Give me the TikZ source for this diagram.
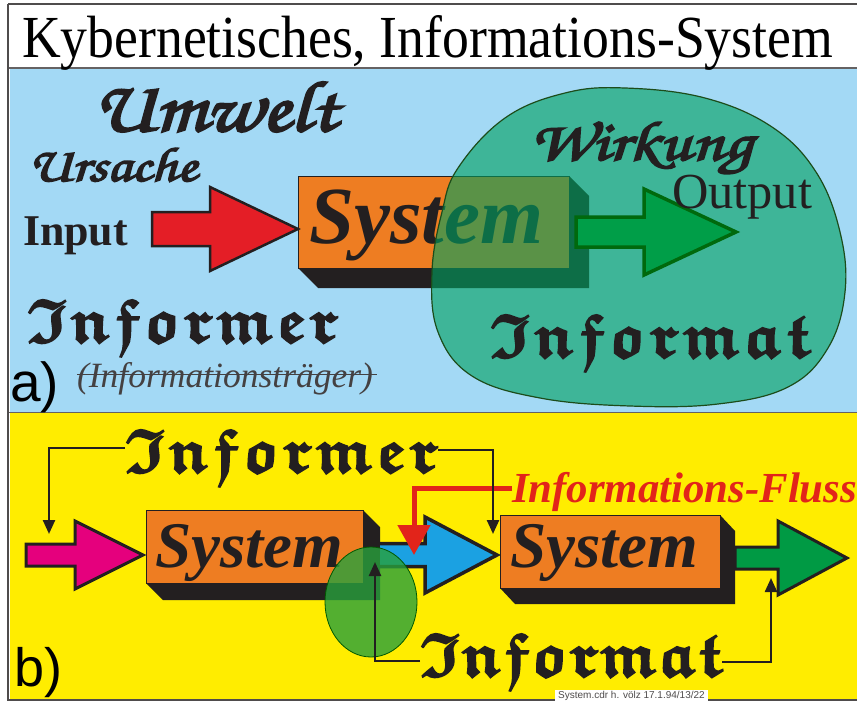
\documentclass[tikz,border=0pt]{standalone}
\usepackage{graphicx}
\usepackage{amsfonts}
\usepackage{fontspec}
\setmainfont{Liberation Serif}
\newfontfamily\sansfnt{Liberation Sans}
\newfontfamily\scriptfnt[FakeBold=3]{texgyrechorus-mediumitalic.otf}
\usetikzlibrary{arrows.meta,calc}
\definecolor{bluebg}{RGB}{163,217,245}
\definecolor{yellowbg}{RGB}{255,237,0}
\definecolor{orangebox}{RGB}{238,125,34}
\definecolor{shadowc}{RGB}{35,31,32}
\definecolor{redarr}{RGB}{228,30,38}
\definecolor{greenarr}{RGB}{0,158,72}
\definecolor{greenarrb}{RGB}{0,154,68}
\definecolor{magarr}{RGB}{229,0,125}
\definecolor{bluearr}{RGB}{27,161,226}
\definecolor{blobc}{RGB}{0,160,95}
\definecolor{ellc}{RGB}{40,160,60}
\definecolor{flussred}{RGB}{226,36,26}
\newcommand\frk[1]{$\mathfrak{#1}$}
\newcommand\frakspread[2]{\makebox[#1][s]{\fontsize{62}{62}\selectfont\boldmath\special{pdf:literal direct 2 Tr 1.6 w}#2\special{pdf:literal direct 0 Tr 0.4 w}}}
\newcommand\blockarrow[7]{%
  \draw[#1] ({#2},{#5-#6}) -- ({#3},{#5-#6}) -- ({#3},{#5-#7}) -- ({#4},{#5})
    -- ({#3},{#5+#7}) -- ({#3},{#5+#6}) -- ({#2},{#5+#6}) -- cycle;}
\tikzset{
  lbl/.style={inner sep=0pt, outer sep=0pt, anchor=base west},
  sbox/.style={fill=orangebox, draw=shadowc, line width=0.6pt, inner sep=0pt, outer sep=0pt, anchor=north west},
  extr/.style={fill=shadowc},
  conn/.style={line width=2.4pt, draw=shadowc, -{Triangle[length=14pt,width=12pt]}},
  fatarrow/.style={line width=3pt, draw=shadowc, line join=miter},
}
\begin{document}
\begin{tikzpicture}[x=1pt,y=-1pt]
\useasboundingbox (0,0) rectangle (857,701);
\fill[white] (0,0) rectangle (857,701);
% panels
\fill[bluebg] (10,68) rectangle (857,412);
\fill[yellowbg] (10,413) rectangle (857,699);
\draw[shadowc!80, line width=1.5pt] (8,4) -- (857,4);
\draw[shadowc!80, line width=2pt] (8,4) -- (8,701);
\draw[shadowc!70, line width=1.5pt] (9,68) -- (857,68);
\draw[shadowc!70, line width=1.5pt] (9,412.5) -- (857,412.5);
\draw[shadowc!80, line width=2pt] (9,700) -- (857,700);
% title
\node[lbl] (title) at (22,57) {\resizebox{811pt}{42pt}{Kybernetisches, Informations-System}};

% ---------- a) ----------
\node[lbl, text=shadowc] (umwelt) at (93,131) {\resizebox{244pt}{49pt}{\scriptfnt Umwelt}};
\node[lbl, text=shadowc] (ursache) at (28,181) {\resizebox{169pt}{33pt}{\scriptfnt Ursache}};
\node[lbl, text=shadowc] (input) at (23,245) {\resizebox{105pt}{!}{\bfseries Input}};
% system box a
\node[sbox, minimum width=271pt, minimum height=92pt] (boxa) at (298,176) {};
\fill[extr] (boxa.south west) -- ++(20,20) -- ++(271,0) -- ++(0,-92) -- (boxa.north east) -- (boxa.south east) -- cycle;
\node[lbl, text=shadowc] (sysa) at (309,243) {\resizebox{234pt}{!}{\bfseries\itshape System}};
% red input arrow
\blockarrow{fatarrow, fill=redarr, line width=2.5pt}{152}{210}{298}{229}{17}{42}
% blob
\draw[fill=blobc, fill opacity=0.62, draw=shadowc!80!green, line width=1.2pt]
  plot[smooth cycle, tension=0.65] coordinates {(458,168) (505,118) (565,93) (625,88) (705,98) (772,127) (816,172) (840,232) (845,292) (828,348) (788,387) (718,404) (630,406) (540,398) (472,376) (438,332) (432,272) (442,212)};
% green output arrow
\blockarrow{fatarrow, fill=greenarr, draw=green!40!black!90!teal, line width=3.5pt}{576}{644}{736}{232}{15}{43}
\node[lbl, text=shadowc] (wirkung) at (530,160) {\resizebox{222pt}{38pt}{\scriptfnt Wirkung}};
\node[lbl, text=shadowc] (output) at (672,208) {\resizebox{140pt}{!}{Output}};
\node[lbl, text=shadowc] (informata) at (490,357) {\frakspread{320pt}{\frk{I}\hfill\frk{n}\hfill\frk{f}\hfill\frk{o}\hfill\frk{r}\hfill\frk{m}\hfill\frk{a}\hfill\frk{t}}};
\node[lbl, text=shadowc] (informera) at (27,342) {\frakspread{311pt}{\frk{I}\hfill\frk{n}\hfill\frk{f}\hfill\frk{o}\hfill\frk{r}\hfill\frk{m}\hfill\frk{e}\hfill\frk{r}}};
\node[lbl, text=shadowc!85] (traeger) at (77,387) {\resizebox{296pt}{!}{\itshape (Informationsträger)}};
\draw[shadowc!85, line width=1pt] (traeger.west |- 0,374) -- (377,374);
\node[lbl] (la) at (10,401) {\fontsize{55}{55}\selectfont\sansfnt a)};

% ---------- b) ----------
\node[lbl, text=shadowc] (informerb) at (125,472) {\frakspread{313pt}{\frk{I}\hfill\frk{n}\hfill\frk{f}\hfill\frk{o}\hfill\frk{r}\hfill\frk{m}\hfill\frk{e}\hfill\frk{r}}};
\node[lbl, text=flussred] (fluss) at (512,502) {\resizebox{345pt}{!}{\bfseries\itshape Informations-Fluss}};
% boxes b
\node[sbox, minimum width=217pt, minimum height=73pt] (boxb1) at (146,510) {};
\fill[extr] (boxb1.south west) -- ++(17,17) -- ++(217,0) -- ++(0,-73) -- (boxb1.north east) -- (boxb1.south east) -- cycle;
\node[lbl, text=shadowc] (sysb1) at (155,567) {\resizebox{188pt}{!}{\bfseries\itshape System}};
\node[sbox, minimum width=220pt, minimum height=73pt] (boxb2) at (500,515) {};
\fill[extr] (boxb2.south west) -- ++(15,16) -- ++(220,0) -- ++(0,-73) -- (boxb2.north east) -- (boxb2.south east) -- cycle;
\node[lbl, text=shadowc] (sysb2) at (510,567) {\resizebox{188pt}{!}{\bfseries\itshape System}};
% fat arrows b
\blockarrow{fatarrow, fill=magarr}{26}{75}{143}{555}{11}{34}
\blockarrow{fatarrow, fill=bluearr, line width=3.5pt}{378}{425}{497}{555}{11.5}{38}
\blockarrow{fatarrow, fill=greenarrb}{735}{778}{847}{558}{11}{37}
% ellipse
\draw[fill=ellc, fill opacity=0.8, draw=green!35!black, line width=0.8pt] (371,602) ellipse [x radius=46, y radius=55];
% red information flow arrow
\coordinate (fl1) at (414,488);
\coordinate (fl2) at (414,555);
\draw[draw=flussred, line width=5pt, -{Triangle[length=30pt,width=32pt]}] (fluss.west |- fl1) -- (fl1) -- (fl2);
% Informat b
\node[lbl, text=shadowc] (informatb) at (420,676) {\frakspread{302pt}{\frk{I}\hfill\frk{n}\hfill\frk{f}\hfill\frk{o}\hfill\frk{r}\hfill\frk{m}\hfill\frk{a}\hfill\frk{t}}};
% connectors
\coordinate (c1) at (49,448);
\coordinate (c2) at (49,534);
\coordinate (c3) at (493,450);
\coordinate (c4) at (493,534);
\coordinate (c5) at (375,661);
\coordinate (c6) at (375,562);
\coordinate (c7) at (771,662);
\coordinate (c8) at (771,578);
\draw[conn] (informerb.west |- c1) -- (c1) -- (c2);
\draw[conn] (informerb.east |- c3) -- (c3) -- (c4);
\draw[conn] (informatb.west |- c5) -- (c5) -- (c6);
\draw[conn] (informatb.east |- c7) -- (c7) -- (c8);
\node[lbl] (lb) at (14,686) {\fontsize{54}{54}\selectfont\sansfnt b)};
% footer
\node[fill=white, inner xsep=3pt, inner ysep=0.5pt, anchor=south west, text=shadowc!80] (footer) at (555,701) {\fontsize{10}{10}\selectfont\sansfnt System.cdr h. völz 17.1.94/13/22};
\end{tikzpicture}
\end{document}
